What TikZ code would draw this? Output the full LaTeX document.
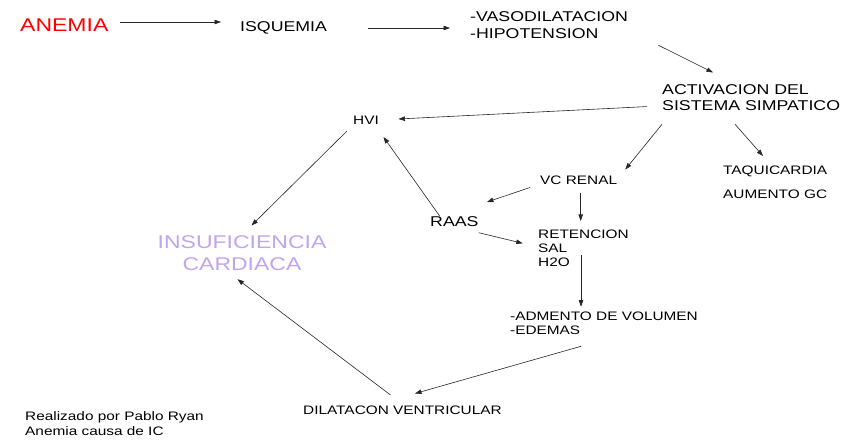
\documentclass[tikz,border=0pt]{standalone}
\usepackage{fontspec}
\setmainfont[FakeStretch=1.25]{Liberation Sans}
\usetikzlibrary{arrows.meta}
\definecolor{lila}{RGB}{192,164,240}
\begin{document}
\begin{tikzpicture}[x=1pt, y=-1pt,
  txt/.style={inner sep=0pt, font=\fontsize{14.2}{16.5}\selectfont},
  chico/.style={inner sep=0pt, font=\fontsize{12.3}{14}\selectfont},
  flecha/.style={-{Triangle[length=6.5pt,width=4.5pt]}, line width=0.6pt, black!85}]
  \useasboundingbox (0,0) rectangle (847,443);
  % 第 1 行
  \node[inner sep=0pt, anchor=base west, text=red, font=\fontsize{18.4}{21.7}\selectfont] (anemia) at (20,31.5) {ANEMIA};
  \node[txt, anchor=base west] (isq) at (240,32) {ISQUEMIA};
  \node[txt, anchor=north west, align=left] (vaso) at (470,11.8) {-VASODILATACION\\-HIPOTENSION};
  % 第 2 行
  \node[txt, anchor=north west, align=left] (simp) at (662,84.3) {ACTIVACION DEL\\SISTEMA SIMPATICO};
  \node[chico, anchor=base west] (hvi) at (353,125) {HVI};
  \node[chico, anchor=base west] (vcr) at (540,185) {VC RENAL};
  \node[chico, anchor=base west] (taq) at (723,175) {TAQUICARDIA};
  \node[chico, anchor=base west] (gc) at (723,198.5) {AUMENTO GC};
  % 第 3 行
  \node[txt, anchor=base west] (raas) at (430,226.5) {RAAS};
  \node[chico, anchor=north west, align=left] (ret) at (538,229.7) {RETENCION\\SAL\\H2O};
  \node[inner sep=0pt, anchor=north, align=center, text=lila, font=\fontsize{18.4}{21.7}\selectfont] (insuf) at (242,235.8) {INSUFICIENCIA\\CARDIACA};
  \node[chico, anchor=north west, align=left] (vol) at (510,312.2) {-ADMENTO DE VOLUMEN\\-EDEMAS};
  \node[chico, anchor=base west] (dil) at (303,415) {DILATACON VENTRICULAR};
  \node[inner sep=0pt, anchor=north west, align=left, font=\fontsize{12.3}{15}\selectfont] (firma) at (25,411.2) {Realizado por Pablo Ryan\\Anemia causa de IC};
  % flechas
  \draw[flecha] ([shift={(11,-9.5)}]anemia.base east) -- ([shift={(-19,-10)}]isq.base west);
  \draw[flecha] ([shift={(41.2,-4)}]isq.base east) -- ([shift={(-20,16.2)}]vaso.north west);
  \draw[flecha] ([shift={(30.2,6.5)}]vaso.south east) -- ([shift={(51,-11.8)}]simp.north west);
  \draw[flecha] ([shift={(-15,8.8)}]simp.west) -- ([shift={(19.4,-6)}]hvi.base east);
  \draw[flecha] ([shift={(0,13)}]simp.south west) -- ([shift={(8,-15.5)}]vcr.base east);
  \draw[flecha] ([shift={(73,13)}]simp.south west) -- ([shift={(40,-19)}]taq.base west);
  \draw[flecha] ([shift={(-10,2.5)}]vcr.base west) -- ([shift={(8.2,-24.5)}]raas.base east);
  \draw[flecha] ([shift={(40.7,8)}]vcr.base west) -- ([shift={(42.7,-8.7)}]ret.north west);
  \draw[flecha] ([shift={(10,-10)}]raas.base west) -- ([shift={(30.5,12)}]hvi.base west);
  \draw[flecha] ([shift={(-6,6)}]hvi.base west) -- ([shift={(9.5,-10.3)}]insuf.north);
  \draw[flecha] ([shift={(0,6.2)}]raas.base east) -- ([shift={(-15.3,13.6)}]ret.north west);
  \draw[flecha] ([shift={(43,25.3)}]ret.north west) -- ([shift={(71,-5.5)}]vol.north west);
  \draw[flecha] ([shift={(71,11)}]vol.south west) -- ([shift={(112,-21.5)}]dil.base west);
  \draw[flecha] ([shift={(87.5,-20)}]dil.base west) -- ([shift={(-4.5,8.3)}]insuf.south);
\end{tikzpicture}
\end{document}
